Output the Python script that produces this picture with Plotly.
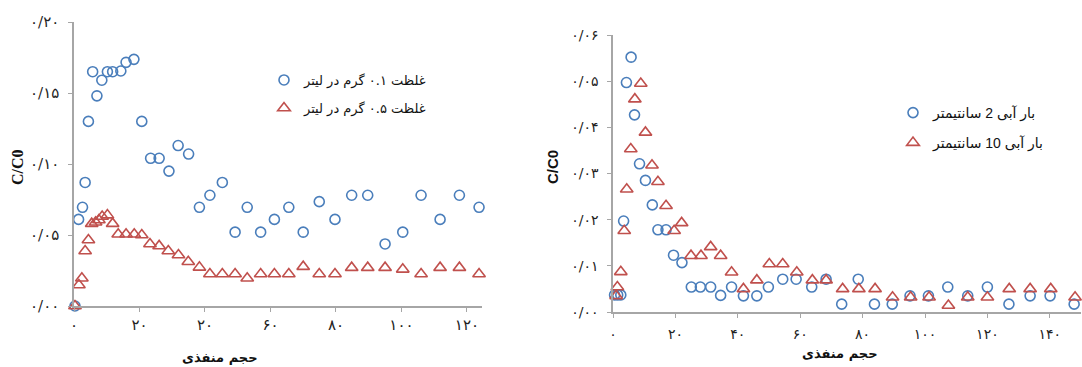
import plotly.graph_objects as go

# ---------------- data ----------------
# Left panel: concentration 0.1 g/L (circles) and 0.5 g/L (triangles)
left_x_c01 = [0.3, 1.4, 2.6, 3.4, 4.4, 5.7, 7.0, 8.5, 10.2, 11.8, 14.3, 15.9, 18.3, 20.7, 23.4, 26.0,
              29.0, 31.8, 35.0, 38.3, 41.5, 45.3, 49.2, 52.9, 57.0, 61.2, 65.6, 70.0, 74.9, 79.7,
              84.8, 89.7, 95.0, 100.4, 106.0, 111.8, 117.7, 123.7]
left_y_c01 = [0.0, 0.061, 0.0695, 0.087, 0.130, 0.165, 0.148, 0.159, 0.165, 0.165, 0.1655, 0.1716,
              0.1737, 0.130, 0.104, 0.104, 0.095, 0.113, 0.107, 0.0695, 0.078, 0.087, 0.052, 0.0695,
              0.052, 0.061, 0.0695, 0.052, 0.0735, 0.061, 0.078, 0.078, 0.0437, 0.052, 0.078, 0.061,
              0.078, 0.0695]
left_x_c05 = [0.3, 1.5, 2.4, 3.4, 4.4, 5.4, 6.6, 7.6, 8.6, 10.2, 11.8, 13.5, 15.9, 18.4, 20.7, 23.2,
              26.0, 28.8, 31.9, 34.9, 38.3, 41.5, 45.3, 49.2, 52.9, 57.0, 61.2, 65.6, 70.0, 74.9,
              79.7, 84.8, 89.7, 95.0, 100.4, 106.0, 111.8, 117.7, 123.7]
left_y_c05 = [0.0, 0.0148, 0.0195, 0.0387, 0.0465, 0.058, 0.059, 0.0606, 0.063, 0.064, 0.058, 0.0505,
              0.0505, 0.0505, 0.050, 0.0437, 0.0423, 0.0387, 0.0359, 0.0312, 0.0272, 0.0225, 0.0225,
              0.0225, 0.0195, 0.0225, 0.0225, 0.0225, 0.0277, 0.0225, 0.0225, 0.027, 0.027, 0.027,
              0.0258, 0.0225, 0.027, 0.027, 0.0225]

# Right panel: water head 2 cm (circles) and 10 cm (triangles)
right_x_h2 = [0.5, 1.5, 2.5, 3.4, 4.3, 5.8, 6.9, 8.5, 10.4, 12.6, 14.4, 17.0, 19.4, 22.1, 25.1, 28.0,
              31.3, 34.5, 38.0, 41.8, 46.1, 49.8, 54.4, 58.7, 63.7, 68.3, 73.3, 78.6, 83.8, 89.5,
              95.2, 101.1, 107.3, 113.7, 120.0, 126.9, 133.7, 140.1, 147.8]
right_y_h2 = [0.0037, 0.0037, 0.0037, 0.0197, 0.0497, 0.0552, 0.0427, 0.0321, 0.0285, 0.0232, 0.0178,
              0.0178, 0.0123, 0.0107, 0.0054, 0.0054, 0.0054, 0.0036, 0.0054, 0.0035, 0.0035, 0.0054,
              0.0071, 0.0071, 0.0054, 0.0071, 0.0017, 0.0071, 0.0017, 0.0017, 0.0035, 0.0035, 0.0054,
              0.0035, 0.0054, 0.0017, 0.0035, 0.0035, 0.0017]
right_x_h10 = [1.0, 1.4, 2.5, 3.6, 4.4, 5.7, 7.0, 8.9, 10.4, 12.5, 14.4, 17.0, 19.6, 22.0, 25.0, 28.2,
               31.3, 34.5, 38.0, 41.8, 46.1, 50.1, 54.4, 58.9, 63.9, 68.3, 73.6, 78.8, 84.0, 89.6,
               95.4, 101.3, 107.5, 113.7, 120.0, 127.0, 133.7, 140.3, 148.1]
right_y_h10 = [0.0035, 0.0054, 0.0087, 0.0176, 0.0266, 0.0353, 0.0461, 0.0495, 0.0389, 0.0318, 0.0282,
               0.0230, 0.0176, 0.0193, 0.0122, 0.0122, 0.0141, 0.0122, 0.0086, 0.0050, 0.0069, 0.0104,
               0.0104, 0.0086, 0.0069, 0.0069, 0.0050, 0.0050, 0.0050, 0.0032, 0.0032, 0.0032, 0.0014,
               0.0032, 0.0032, 0.0050, 0.0050, 0.0050, 0.0032]

# tick labels
left_xtick_vals = [0, 20, 40, 60, 80, 100, 120]
left_xtick_text = ["۰", "۲۰", "۲۰", "۶۰", "۸۰", "۱۰۰", "۱۲۰"]
left_ytick_vals = [0.0, 0.05, 0.10, 0.15, 0.20]
left_ytick_text = ["۰/۰۰", "۰/۰۵", "۰/۱۰", "۰/۱۵", "۰/۲۰"]
right_xtick_vals = [0, 20, 40, 60, 80, 100, 120, 140]
right_xtick_text = ["۰", "۲۰", "۴۰", "۶۰", "۸۰", "۱۰۰", "۱۲۰", "۱۴۰"]
right_ytick_vals = [0.0, 0.01, 0.02, 0.03, 0.04, 0.05, 0.06]
right_ytick_text = ["۰/۰۰", "۰/۰۱", "۰/۰۲", "۰/۰۳", "۰/۰۴", "۰/۰۵", "۰/۰۶"]

name_c01 = "غلظت ۰.۱ گرم در لیتر"
name_c05 = "غلظت ۰.۵ گرم در لیتر"
name_h2 = "بار آبی 2 سانتیمتر"
name_h10 = "بار آبی 10 سانتیمتر"
x_title = "حجم منفذی"
y_title = "C/C0"

# ---------------- styling ----------------
BLUE = "#4a7ebb"
RED = "#c0504d"
AXIS = "#a6a6a6"
W, H = 1082, 367

fig = go.Figure()

def circle(x, y, name, xa, ya, leg):
    return go.Scatter(x=x, y=y, name=name, mode="markers", xaxis=xa, yaxis=ya, legend=leg,
                      cliponaxis=False,
                      marker=dict(symbol="circle-open", size=10, color=BLUE, line=dict(width=1.6, color=BLUE)))

def tri(x, y, name, xa, ya, leg):
    return go.Scatter(x=x, y=y, name=name, mode="markers", xaxis=xa, yaxis=ya, legend=leg,
                      cliponaxis=False,
                      marker=dict(symbol="triangle-up-open", size=11, color=RED, line=dict(width=1.6, color=RED)))

fig.add_trace(circle(left_x_c01, left_y_c01, name_c01, "x", "y", "legend"))
fig.add_trace(tri(left_x_c05, left_y_c05, name_c05, "x", "y", "legend2"))
fig.add_trace(circle(right_x_h2, right_y_h2, name_h2, "x2", "y2", "legend3"))
fig.add_trace(tri(right_x_h10, right_y_h10, name_h10, "x2", "y2", "legend4"))

def px(v):
    return v / W

def py(v):
    return 1 - v / H

axis_common = dict(showgrid=False, zeroline=False, showline=True, linecolor=AXIS, linewidth=1.5,
                   ticks="outside", ticklen=4, tickcolor=AXIS, tickwidth=1.2, automargin=False)

LEFT_FONT = "DejaVu Serif, DejaVu Sans"
RIGHT_FONT = "Liberation Sans, DejaVu Sans"

fig.update_layout(
    width=W, height=H,
    margin=dict(l=0, r=0, t=0, b=0, autoexpand=False),
    paper_bgcolor="white", plot_bgcolor="white",
    showlegend=True,
    xaxis=dict(domain=[px(74), px(482)], range=[0, 124.6], anchor="y",
               tickvals=left_xtick_vals, ticktext=left_xtick_text,
               tickfont=dict(family=LEFT_FONT, size=15, color="#222"), **axis_common),
    yaxis=dict(domain=[py(306), py(22)], range=[0, 0.20], anchor="x",
               tickvals=left_ytick_vals, ticktext=left_ytick_text, ticklabelstandoff=6,
               tickfont=dict(family=LEFT_FONT, size=15, color="#222"), **axis_common),
    xaxis2=dict(domain=[px(613), px(1081)], range=[0, 150], anchor="y2",
                tickvals=right_xtick_vals, ticktext=right_xtick_text, ticklabelstandoff=4,
                tickfont=dict(family="DejaVu Sans", size=14, color="#222"), **axis_common),
    yaxis2=dict(domain=[py(312), py(35)], range=[0, 0.06], anchor="x2",
                tickvals=right_ytick_vals, ticktext=right_ytick_text, ticklabelstandoff=6,
                tickfont=dict(family="DejaVu Sans", size=14, color="#222"), **axis_common),
    legend=dict(x=px(264), y=py(80), xanchor="left", yanchor="middle", bgcolor="rgba(0,0,0,0)",
                font=dict(family=LEFT_FONT, size=13, color="#111")),
    legend2=dict(x=px(264), y=py(108), xanchor="left", yanchor="middle", bgcolor="rgba(0,0,0,0)",
                 font=dict(family=LEFT_FONT, size=13, color="#111")),
    legend3=dict(x=px(893), y=py(113), xanchor="left", yanchor="middle", bgcolor="rgba(0,0,0,0)",
                 font=dict(family=RIGHT_FONT, size=14, color="#111")),
    legend4=dict(x=px(893), y=py(143), xanchor="left", yanchor="middle", bgcolor="rgba(0,0,0,0)",
                 font=dict(family=RIGHT_FONT, size=14, color="#111")),
    annotations=[
        dict(text="<b>" + x_title + "</b>", x=px(220), y=py(357), xref="paper", yref="paper",
             showarrow=False, xanchor="center", yanchor="middle",
             font=dict(family="DejaVu Sans", size=13, color="#111")),
        dict(text="<b>" + x_title + "</b>", x=px(840), y=py(353), xref="paper", yref="paper",
             showarrow=False, xanchor="center", yanchor="middle",
             font=dict(family="DejaVu Sans", size=13, color="#111")),
        dict(text="<b>" + y_title + "</b>", x=px(18), y=py(167), xref="paper", yref="paper",
             showarrow=False, xanchor="center", yanchor="middle", textangle=-90,
             font=dict(family="Liberation Serif", size=16, color="#111")),
        dict(text="<b>" + y_title + "</b>", x=px(553), y=py(167), xref="paper", yref="paper",
             showarrow=False, xanchor="center", yanchor="middle", textangle=-90,
             font=dict(family="Liberation Sans", size=15, color="#111")),
    ],
)

fig.write_html("out.html", config={"displayModeBar": False},
               post_script="document.body.style.margin='0';document.body.style.overflow='hidden';")
